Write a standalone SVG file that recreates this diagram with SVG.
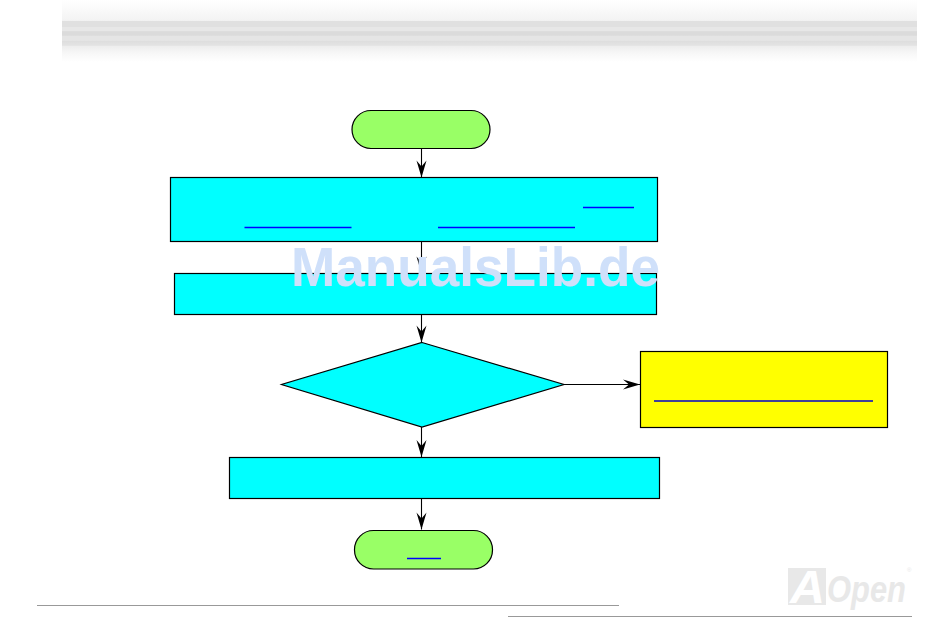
<svg xmlns="http://www.w3.org/2000/svg" width="950" height="639" viewBox="0 0 950 639">
<style>
.n{stroke:#000;stroke-width:1.2}
.c{fill:#0ff}
.t{fill:#9f6}
.link{stroke:#00f;stroke-width:1.6;fill:none}
.foot{stroke:#999;stroke-width:1.2;fill:none}
#connectors line{stroke:#000;stroke-width:1.1;fill:none;marker-end:url(#arr)}
</style>
<defs>
<linearGradient id="band" x1="0" y1="0" x2="0" y2="1">
<stop offset="0" stop-color="#fff"/>
<stop offset=".2" stop-color="#f8f8f8"/>
<stop offset=".33" stop-color="#f3f3f3"/>
<stop offset=".34" stop-color="#e0e0e0"/>
<stop offset=".43" stop-color="#e0e0e0"/>
<stop offset=".44" stop-color="#e7e7e7"/>
<stop offset=".5" stop-color="#e7e7e7"/>
<stop offset=".51" stop-color="#dbdbdb"/>
<stop offset=".57" stop-color="#dbdbdb"/>
<stop offset=".58" stop-color="#e5e5e5"/>
<stop offset=".65" stop-color="#e5e5e5"/>
<stop offset=".67" stop-color="#dedede"/>
<stop offset=".73" stop-color="#e3e3e3"/>
<stop offset=".75" stop-color="#eeeeee"/>
<stop offset=".87" stop-color="#f8f8f8"/>
<stop offset="1" stop-color="#fff"/>
</linearGradient>
<marker id="arr" markerUnits="userSpaceOnUse" markerWidth="20" markerHeight="12" refX="18" refY="6" orient="auto">
<path d="M1 1 L18 6 L1 11 L7 6 Z" fill="#000"/>
</marker>
</defs>
<rect x="62" y="0" width="855" height="62" fill="url(#band)"/>
<g id="connectors">
<line x1="421.5" y1="149" x2="421.5" y2="177.5"/>
<line x1="421.5" y1="241.5" x2="421.5" y2="273.5"/>
<line x1="421.5" y1="314.5" x2="421.5" y2="342.5"/>
<line x1="421.5" y1="427" x2="421.5" y2="457"/>
<line x1="421.5" y1="498.5" x2="421.5" y2="529.5"/>
<line x1="564" y1="384.5" x2="640" y2="384.5"/>
</g>
<g id="start"><rect class="n t" x="352" y="110.5" width="138" height="38" rx="19"/></g>
<g id="step1"><rect class="n c" x="170.5" y="177.5" width="487" height="64"/>
<path class="link" d="M583 207.5H634M244.5 227.5H351.5M438 227.5H575"/></g>
<g id="step2"><rect class="n c" x="174.5" y="273.5" width="482" height="41"/></g>
<g id="decision"><polygon class="n c" points="422,342.5 564,384.5 422,427 281.5,384.5"/></g>
<g id="note"><rect class="n" fill="#ff0" x="640.5" y="351.5" width="247" height="76"/>
<path class="link" d="M654 401H873" style="stroke:#00c"/></g>
<g id="step3"><rect class="n c" x="229.5" y="457.5" width="430" height="41"/></g>
<g id="end"><rect class="n t" x="354.5" y="530.5" width="138" height="38.5" rx="19"/>
<path class="link" d="M407 558.5H441"/></g>
<text x="291" y="286" font-family="Liberation Sans, Arial, sans-serif" font-weight="bold" font-size="56" fill="#cfe0fa" textLength="369" lengthAdjust="spacingAndGlyphs">ManualsLib.de</text>
<path class="foot" d="M37 605.5H619M508 616.5H912"/>
<g id="logo">
<rect x="788" y="568" width="38" height="37" fill="#e8e8e8"/>
<text x="790" y="603" font-family="Liberation Sans, Arial, sans-serif" font-weight="bold" font-style="italic" font-size="47" fill="#fff" textLength="35" lengthAdjust="spacingAndGlyphs">A</text>
<text x="827" y="602" font-family="Liberation Sans, Arial, sans-serif" font-weight="bold" font-style="italic" font-size="36" fill="#e8e8e8" textLength="79" lengthAdjust="spacingAndGlyphs">Open</text>
<text x="907" y="572" font-family="Liberation Sans, Arial, sans-serif" font-size="6" fill="#e8e8e8">®</text>
</g>
</svg>
